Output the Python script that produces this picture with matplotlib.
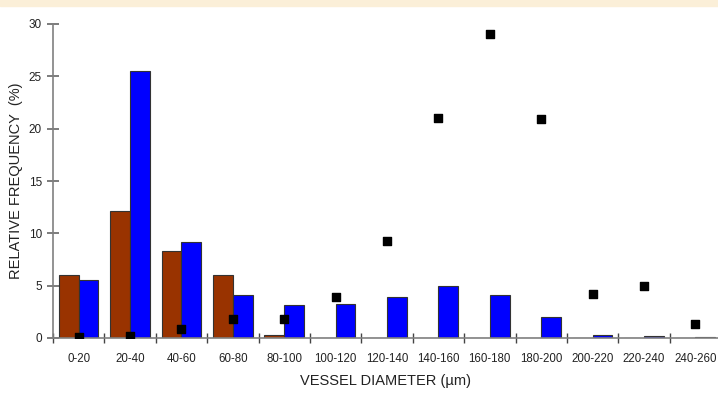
import numpy as np
import matplotlib.pyplot as plt

plt.rcParams['font.family'] = ['Liberation Sans', 'DejaVu Sans']

# classes de diâmetro
categorias = ['0-20', '20-40', '40-60', '60-80', '80-100', '100-120', '120-140',
              '140-160', '160-180', '180-200', '200-220', '220-240', '240-260']
serie_marrom = [6.0, 12.1, 8.35, 6.0, 0.3, 0, 0, 0, 0, 0, 0, 0, 0]
serie_azul = [5.55, 25.55, 9.2, 4.1, 3.15, 3.25, 3.95, 4.95, 4.15, 2.0, 0.28, 0.22, 0.1]
serie_pontos = [0.07, 0.22, 0.86, 1.8, 1.8, 3.9, 9.25, 21.0, 29.0, 20.9, 4.2, 4.97, 1.37]
y_ticks = [0, 5, 10, 15, 20, 25, 30]

fig = plt.figure(figsize=(7.18, 4.05), dpi=100)
fig.patch.set_facecolor('white')
# faixa bege no topo
fig.add_artist(plt.Rectangle((0, 1 - 6 / 405), 1, 6 / 405, transform=fig.transFigure,
                             color='#fbefd8', zorder=0))

ax = fig.add_axes([53 / 718, (405 - 338) / 405, 665 / 718, 314 / 405])
x = np.arange(len(categorias))
w = 0.385
ax.bar(x - w / 2, serie_marrom, width=w, color='#993300', edgecolor='#333333', linewidth=0.8, zorder=2)
ax.bar(x + w / 2, serie_azul, width=w, color='#0000ff', edgecolor='#333333', linewidth=0.8, zorder=2)
ax.scatter(x, serie_pontos, marker='s', s=30, color='black', zorder=3)

ax.set_xlim(-0.5, len(categorias) - 0.56)
ax.set_ylim(0, 30)
ax.set_yticks(y_ticks)
ax.set_xticks(x)
ax.set_xticklabels(categorias)
ax.set_xticks(np.arange(len(categorias)) - 0.5, minor=True)

for s in ['top', 'right']:
    ax.spines[s].set_visible(False)
for s in ['left', 'bottom']:
    ax.spines[s].set_color('#808080')
    ax.spines[s].set_linewidth(1.2)

ax.tick_params(axis='y', direction='inout', length=8, width=1.2, color='#666666',
               labelsize=8.5, pad=4, labelcolor='#222222')
ax.tick_params(axis='x', which='major', length=0, labelsize=8.3, pad=11, labelcolor='#222222')
ax.tick_params(axis='x', which='minor', direction='inout', length=7, width=1, color='#444444')

ax.set_xlabel('VESSEL DIAMETER (µm)', fontsize=10.5, color='#222222', labelpad=6)
ax.set_ylabel('RELATIVE FREQUENCY  (%)', fontsize=10.5, color='#222222', labelpad=4)

fig.savefig('out.png', dpi=100)
